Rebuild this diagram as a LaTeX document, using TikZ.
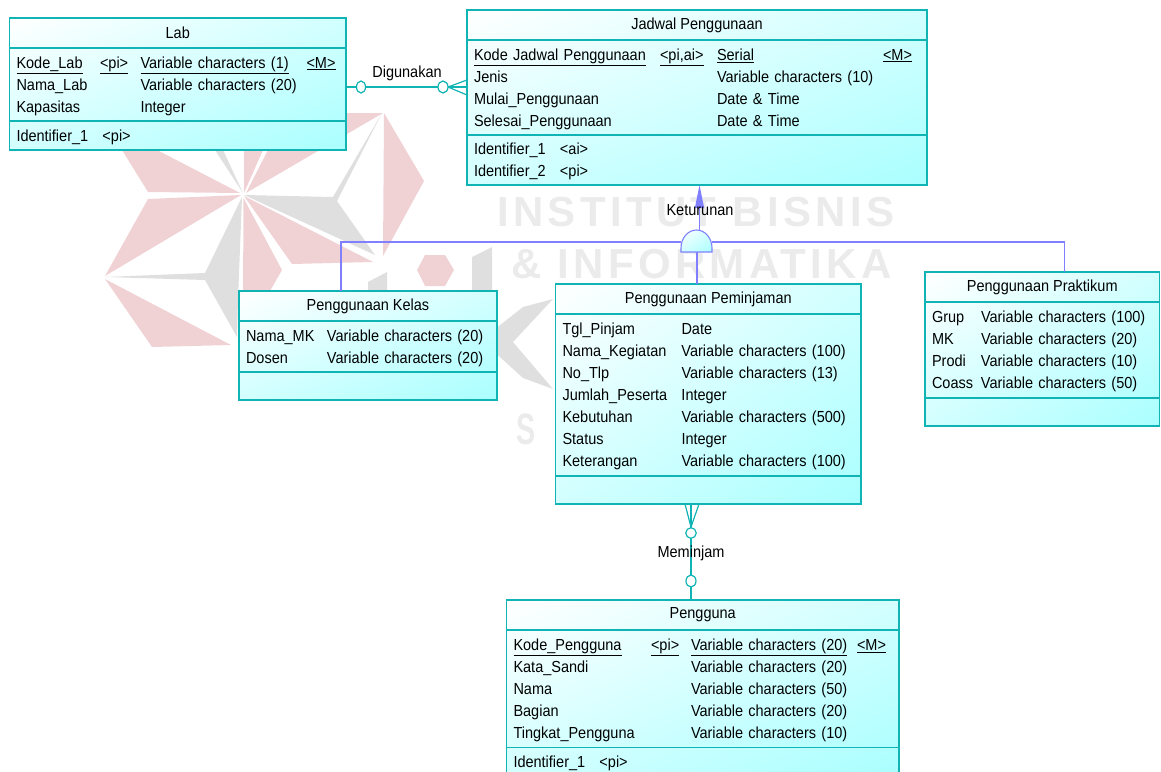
\documentclass[tikz,border=0pt]{standalone}
\usepackage{fontspec}
\usepackage{array}
\setmainfont[FakeStretch=0.906]{Liberation Sans}
\newfontfamily\markfont[LetterSpace=10.3]{Liberation Sans}
\usepackage{tikz}
\usetikzlibrary{shapes,shadings,arrows.meta,positioning}
\setlength{\tabcolsep}{0pt}
\setlength{\extrarowheight}{4.7pt}
\definecolor{entline}{HTML}{10B4B4}
\definecolor{entfill}{HTML}{AAFFFF}
\definecolor{entmid}{HTML}{D2FFFF}
\definecolor{genline}{HTML}{8080FF}
\definecolor{markpink}{HTML}{F0D2D5}
\definecolor{markgray}{HTML}{DFDFDF}
\definecolor{marktext}{HTML}{EBEBEB}
\tikzset{
entity/.style = {rectangle, anchor=north west, outer sep=0pt, upper left=white, upper right=entmid, lower left=entmid, lower right=entfill},
head/.style = {draw=entline, line width=1.2pt, rectangle, outer sep=0pt, inner sep=0pt, minimum height=30pt, minimum width=#1},
part/.style = {draw=entline, line width=1.2pt, rectangle, outer sep=0pt, inner ysep=0pt, inner xsep=7pt, minimum width=#1, text width=#1-14pt, align=left},
rel/.style = {draw=entline, line width=1.2pt},
gen/.style = {draw=genline, line width=1.1pt},
zero/.style = {draw=entline, line width=1.2pt, fill=white, ellipse, inner sep=0pt, minimum width=9pt, minimum height=12pt},
link/.style = {inner sep=0pt},
logopink/.style = {fill=markpink},
logogray/.style = {fill=markgray},
logotext/.style = {inner sep=0pt, text=marktext, font=\markfont\bfseries\fontsize{42}{42}\selectfont}
}
\begin{document}
\begin{tikzpicture}[x=1pt, y=-1pt, font=\fontsize{16}{17.3}\selectfont]
    \useasboundingbox (0,0) rectangle (1161,771);
    \clip (0,0) rectangle (1161,771);
    % logo behind the diagram
    \path [logopink] (240,193) -- (148,192) -- (122,150) -- (157,150) -- cycle;
    \path [logopink] (244,193) -- (244,150) -- (263,150) -- cycle;
    \path [logopink] (246,193) -- (268,150) -- (347,113) -- (383,113) -- cycle;
    \path [logopink] (384,113) -- (424,181) -- (383,256) -- cycle;
    \path [logopink] (244,196) -- (373,262) -- (292,264) -- cycle;
    \path [logopink] (243.5,198) -- (282,270) -- (262,305) -- (243,305) -- cycle;
    \path [logopink] (241,195) -- (148,199) -- (105,276) -- cycle;
    \path [logopink] (105,279) -- (152,347) -- (231,345) -- cycle;
    \path [logopink] (417,270) -- (425,255) -- (445,255) -- (454,270) -- (445,286) -- (425,286) -- cycle;
    \path [logogray] (215,150) -- (243,193) -- (223,150) -- cycle;
    \path [logogray] (244,195) -- (333,197) -- (382,113) -- (337,201) -- (375,255) -- cycle;
    \path [logogray] (242,197) -- (205,273) -- (105,277) -- (205,280) -- (237,337) -- (238,300) -- cycle;
    \path [logogray] (368,282) -- (387,272) -- (387,295) -- (368,295) -- cycle;
    \path [logogray] (472,257) -- (492,247) -- (492,295) -- (472,295) -- cycle;
    \path [logogray] (490,333) -- (523,307) -- (553,299) -- (513,342) -- (553,389) -- (523,378) -- (490,348) -- cycle;
    \node [logotext, anchor=north west] (markone) at (497,197) {INSTITUT BISNIS};
    \node [logotext, anchor=north west] (marktwo) at (511,249) {\& INFORMATIKA};
    \node [inner sep=0pt, text=marktext, xscale=.72, font=\fontsize{44}{44}\bfseries\selectfont] (markthree) at (526,429) {S};

    \shade [entity] (9.5,18) rectangle (346,150);
    \node [head=336.5pt, anchor=north west] (labhead) at (9.5,18) {Lab};
    \node [part=336.5pt, below=0pt of labhead, minimum height=73pt] (labattr) {\begin{tabular}{p{83.5pt}p{40.5pt}p{166pt}l}
        \underline{Kode\_Lab} & \underline{<pi>} & \underline{Variable characters (1)} & \underline{<M>}\\
        Nama\_Lab & & Variable characters (20) & \\
        Kapasitas & & Integer &
    \end{tabular}};
    \node [part=336.5pt, below=0pt of labattr, minimum height=29pt] (labid) {\begin{tabular}{p{86pt}l}
        Identifier\_1 & <pi>
    \end{tabular}};

    \shade [entity] (467,10) rectangle (927,185);
    \node [head=460pt, anchor=north west] (jadwalhead) at (467,10) {Jadwal Penggunaan};
    \node [part=460pt, below=0pt of jadwalhead, minimum height=95pt] (jadwalattr) {\begin{tabular}{p{186pt}p{57pt}p{166pt}l}
        \underline{Kode Jadwal Penggunaan} & \underline{<pi,ai>} & \underline{Serial} & \underline{<M>}\\
        Jenis & & Variable characters (10) & \\
        Mulai\_Penggunaan & & Date \& Time & \\
        Selesai\_Penggunaan & & Date \& Time &
    \end{tabular}};
    \node [part=460pt, below=0pt of jadwalattr, minimum height=50pt] (jadwalid) {\begin{tabular}{p{86pt}l}
        Identifier\_1 & <ai>\\
        Identifier\_2 & <pi>
    \end{tabular}};

    \shade [entity] (239,291) rectangle (497,400);
    \node [head=258pt, anchor=north west] (kelashead) at (239,291) {Penggunaan Kelas};
    \node [part=258pt, below=0pt of kelashead, minimum height=51pt] (kelasattr) {\begin{tabular}{p{81pt}l}
        Nama\_MK & Variable characters (20)\\
        Dosen & Variable characters (20)
    \end{tabular}};
    \node [part=258pt, below=0pt of kelasattr, minimum height=28pt] (kelasid) {};

    \shade [entity] (555.5,284) rectangle (861,504);
    \node [head=305.5pt, anchor=north west] (pinjamhead) at (555.5,284) {Penggunaan Peminjaman};
    \node [part=305.5pt, below=0pt of pinjamhead, minimum height=162pt] (pinjamattr) {\begin{tabular}{p{119pt}l}
        Tgl\_Pinjam & Date\\
        Nama\_Kegiatan & Variable characters (100)\\
        No\_Tlp & Variable characters (13)\\
        Jumlah\_Peserta & Integer\\
        Kebutuhan & Variable characters (500)\\
        Status & Integer\\
        Keterangan & Variable characters (100)
    \end{tabular}};
    \node [part=305.5pt, below=0pt of pinjamattr, minimum height=28pt] (pinjamid) {};

    \shade [entity] (925,272) rectangle (1159.5,426);
    \node [head=234.5pt, anchor=north west] (praktikhead) at (925,272) {Penggunaan Praktikum};
    \node [part=234.5pt, below=0pt of praktikhead, minimum height=96pt] (praktikattr) {\begin{tabular}{p{49pt}l}
        Grup & Variable characters (100)\\
        MK & Variable characters (20)\\
        Prodi & Variable characters (10)\\
        Coass & Variable characters (50)
    \end{tabular}};
    \node [part=234.5pt, below=0pt of praktikattr, minimum height=28pt] (praktikid) {};

    \shade [entity] (506.5,600) rectangle (899,776);
    \node [head=392.5pt, anchor=north west] (penggunahead) at (506.5,600) {Pengguna};
    \node [part=392.5pt, below=0pt of penggunahead, minimum height=117.5pt] (penggunaattr) {\begin{tabular}{p{137.5pt}p{40pt}p{166pt}l}
        \underline{Kode\_Pengguna} & \underline{<pi>} & \underline{Variable characters (20)} & \underline{<M>}\\
        Kata\_Sandi & & Variable characters (20) & \\
        Nama & & Variable characters (50) & \\
        Bagian & & Variable characters (20) & \\
        Tingkat\_Pengguna & & Variable characters (10) &
    \end{tabular}};
    \node [part=392.5pt, below=0pt of penggunaattr, minimum height=28.5pt] (penggunaid) {\begin{tabular}{p{86pt}l}
        Identifier\_1 & <pi>
    \end{tabular}};

    \coordinate (digunafoot) at (448,87);
    \coordinate (pinjamfoot) at (691,527);
    \coordinate (domeleft) at (681,252);
    \coordinate (domeright) at (712,252);
    \coordinate (domebottom) at (697,252);
    \coordinate (domeneck) at (699.5,230);

    \draw [rel] (labattr.east |- digunafoot) -- (digunafoot);
    \draw [rel] (digunafoot) -- ([yshift=7pt]jadwalattr.west |- digunafoot);
    \draw [rel] (digunafoot) -- (jadwalattr.west |- digunafoot);
    \draw [rel] (digunafoot) -- ([yshift=-8pt]jadwalattr.west |- digunafoot);
    \node [zero] (digunazero) at (361,87) {};
    \node [zero, minimum width=10pt] (digunacirc) at (443,87) {};
    \node [link] (digunakan) at (407,73) {Digunakan};

    \draw [rel] (pinjamfoot) -- ([xshift=-6pt]pinjamfoot |- pinjamid.south);
    \draw [rel] (pinjamfoot) -- (pinjamfoot |- pinjamid.south);
    \draw [rel] (pinjamfoot) -- ([xshift=8pt]pinjamfoot |- pinjamid.south);
    \draw [rel] (pinjamfoot) -- (pinjamfoot |- penggunahead.north);
    \node [zero, minimum width=10.5pt, minimum height=10.5pt] (pinjamcirc) at (691,533) {};
    \node [zero, minimum width=10pt] (penggunazero) at (691,581) {};
    \node [link] (meminjam) at (691,553) {Meminjam};

    \draw [gen, -{Triangle[length=23pt,width=9pt]}] (domeneck) -- (domeneck |- jadwalid.south);
    \draw [gen] (domeleft) ++(0,-10) -| ([xshift=-27pt]kelashead.north);
    \draw [gen] (domeright) ++(0,-10) -| ([xshift=22pt]praktikhead.north);
    \draw [gen] (domebottom) -- (domebottom |- pinjamhead.north);
    \shade [gen, upper left=white, upper right=entmid, lower left=entmid, lower right=entfill] (domeleft) -- ++(0,-4) arc [start angle=180, end angle=0, x radius=15.5pt, y radius=18pt] -- (domeright) -- cycle;
    \node [link] (keturunan) at (700,210) {Keturunan};
\end{tikzpicture}
\end{document}
